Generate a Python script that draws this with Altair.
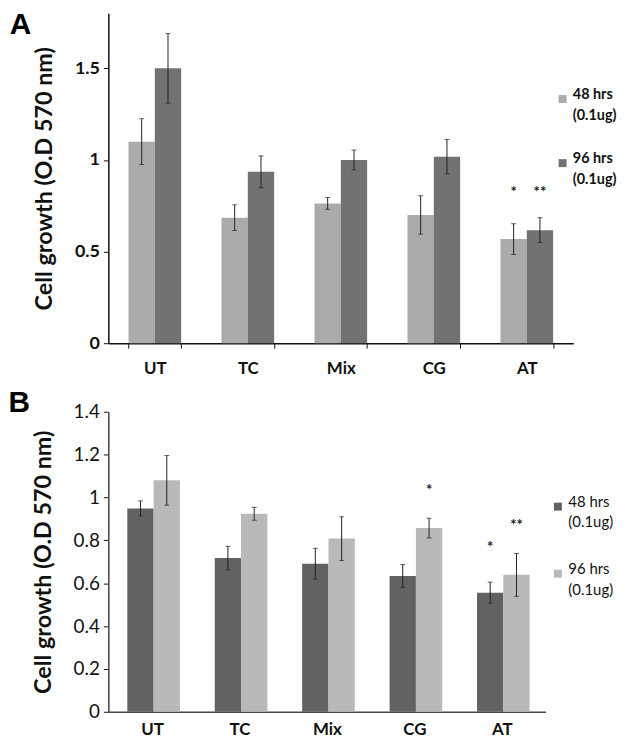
import altair as alt
import pandas as pd

categories = ["UT", "TC", "Mix", "CG", "AT"]
series = ["48 hrs (0.1ug)", "96 hrs (0.1ug)"]

# Panel A values and error half-widths
a_48 = [1.10, 0.685, 0.763, 0.70, 0.568]
a_48_err = [0.125, 0.07, 0.032, 0.105, 0.084]
a_96 = [1.50, 0.935, 1.00, 1.018, 0.617]
a_96_err = [0.19, 0.087, 0.054, 0.094, 0.068]

# Panel B values and error half-widths
b_48 = [0.949, 0.717, 0.691, 0.634, 0.556]
b_48_err = [0.035, 0.055, 0.072, 0.053, 0.049]
b_96 = [1.08, 0.924, 0.808, 0.857, 0.639]
b_96_err = [0.116, 0.03, 0.102, 0.046, 0.10]

# Significance marks
a_star_cat = ["AT", "AT"]
a_star_series = [series[0], series[1]]
a_star_text = ["*", "**"]
a_star_y = [0.833, 0.833]

b_star_cat = ["CG", "AT", "AT"]
b_star_series = [series[1], series[0], series[1]]
b_star_text = ["*", "*", "**"]
b_star_y = [1.04, 0.774, 0.875]

a_ticks = [0, 0.5, 1, 1.5]
b_ticks = [0, 0.2, 0.4, 0.6, 0.8, 1.0, 1.2, 1.4]

Y_TITLE = "Cell growth (O.D 570 nm)"
FONT = "Lato"


def make_df(v48, e48, v96, e96):
    rows = []
    for i, c in enumerate(categories):
        rows.append(dict(cat=c, series=series[0], value=v48[i], lo=v48[i] - e48[i], hi=v48[i] + e48[i]))
        rows.append(dict(cat=c, series=series[1], value=v96[i], lo=v96[i] - e96[i], hi=v96[i] + e96[i]))
    return pd.DataFrame(rows)


def make_stars(cats, sers, texts, ys):
    return pd.DataFrame(dict(cat=cats, series=sers, text=texts, y=ys))


def panel(df, stars, colors, ymax, yticks, width, height, letter, bold,
          x_ticks, x_pad, y_label_size, legend_x, legend_y, legend_size,
          row_pad, domain_color, letter_dy):
    weight = "bold" if bold else "normal"
    xs = alt.Scale(domain=categories, paddingInner=0.434, paddingOuter=0.217)
    xo = alt.XOffset("series:N", sort=series,
                     scale=alt.Scale(domain=series, paddingInner=0, paddingOuter=0))
    ys = alt.Scale(domain=[0, ymax], nice=False, zero=True)

    x_axis = alt.Axis(title=None, labelAngle=0, labelFont=FONT, labelFontSize=17,
                      labelFontWeight="bold", labelColor="#111", labelPadding=x_pad,
                      ticks=x_ticks, tickBand="extent", tickSize=5, tickColor="#111",
                      domainColor=domain_color, domainWidth=1.5)
    y_axis = alt.Axis(values=yticks, format=".1~f", title=Y_TITLE, titleFont=FONT,
                      titleFontSize=23.5, titleFontWeight="bold", titleColor="#111",
                      titlePadding=18, labelFont=FONT, labelFontSize=y_label_size,
                      labelFontWeight=weight, labelColor="#111", labelPadding=4,
                      tickSize=5, tickColor="#111", domainColor=domain_color,
                      domainWidth=1.5, grid=False)

    bars = alt.Chart(df).mark_bar().encode(
        x=alt.X("cat:N", sort=categories, scale=xs, axis=x_axis),
        xOffset=xo,
        y=alt.Y("value:Q", scale=ys, axis=y_axis, title=Y_TITLE),
        color=alt.Color("series:N", sort=series,
                        scale=alt.Scale(domain=series, range=colors),
                        legend=alt.Legend(title=None, orient="none", legendX=legend_x,
                                          legendY=legend_y, symbolType="square",
                                          symbolSize=64, symbolStrokeWidth=0,
                                          labelFont=FONT, labelFontSize=legend_size,
                                          labelFontWeight=weight, labelColor="#111",
                                          labelExpr="[slice(datum.label,0,6), slice(datum.label,7)]",
                                          labelBaseline="alphabetic", rowPadding=row_pad,
                                          labelOffset=3, padding=0, labelLimit=200)),
    )
    rules = alt.Chart(df).mark_rule(color="#222", strokeWidth=1).encode(
        x=alt.X("cat:N", sort=categories, scale=xs),
        xOffset=xo,
        y=alt.Y("lo:Q", scale=ys, title=Y_TITLE),
        y2="hi:Q",
    )
    cap_lo = alt.Chart(df).mark_tick(color="#222", size=5, thickness=1).encode(
        x=alt.X("cat:N", sort=categories, scale=xs),
        xOffset=xo,
        y=alt.Y("lo:Q", scale=ys, title=Y_TITLE),
    )
    cap_hi = alt.Chart(df).mark_tick(color="#222", size=5, thickness=1).encode(
        x=alt.X("cat:N", sort=categories, scale=xs),
        xOffset=xo,
        y=alt.Y("hi:Q", scale=ys, title=Y_TITLE),
    )
    star = alt.Chart(stars).mark_text(fontSize=15, font=FONT, fontWeight="bold",
                                      color="#222", dy=1).encode(
        x=alt.X("cat:N", sort=categories, scale=xs),
        xOffset=xo,
        y=alt.Y("y:Q", scale=ys, title=Y_TITLE),
        text="text:N",
    )
    return alt.layer(bars, rules, cap_lo, cap_hi, star).properties(
        width=width, height=height,
        title=alt.TitleParams(letter, anchor="start", frame="bounds", orient="top",
                              font="Liberation Sans", fontSize=30, fontWeight="bold",
                              color="#000", dx=-23, dy=letter_dy, offset=0),
    )


df_a = make_df(a_48, a_48_err, a_96, a_96_err)
df_b = make_df(b_48, b_48_err, b_96, b_96_err)
st_a = make_stars(a_star_cat, a_star_series, a_star_text, a_star_y)
st_b = make_stars(b_star_cat, b_star_series, b_star_text, b_star_y)

pa = panel(df_a, st_a, ["#ababab", "#727272"], 1.8, a_ticks, 468, 332, "A", True,
           True, 13, 18, 450, 79, 14.5, 28.5, "#111", 27)
pb = panel(df_b, st_b, ["#626262", "#b9b9b9"], 1.4, b_ticks, 440, 302, "B", False,
           False, 10, 19, 445, 88, 15, 30.5, "#444", 15)

chart = alt.vconcat(pa, pb, spacing=11, padding=0, background="white").resolve_scale(
    color="independent", x="independent", y="independent"
).configure(style={"guide-label": {"lineHeight": 21}}).configure_view(stroke=None)

chart.save("out.html", embed_options={"renderer": "svg", "actions": False})
